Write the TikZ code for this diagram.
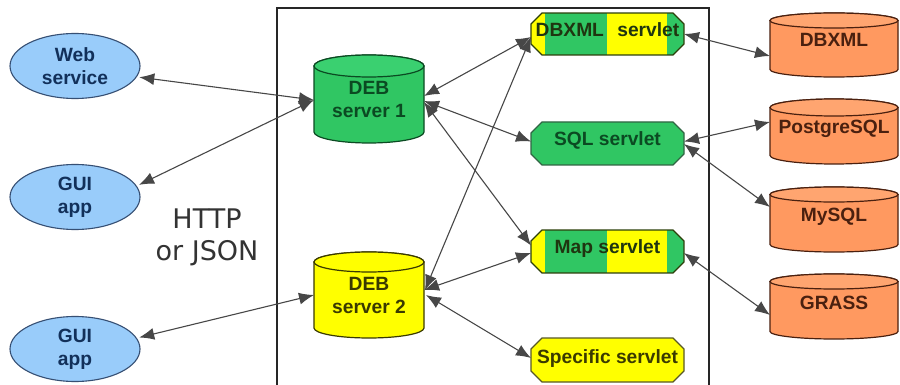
\documentclass[tikz,border=0pt]{standalone}
\usepackage{fontspec}
\setmainfont{Liberation Sans}
\newfontfamily\vera{DejaVu Sans}
\usetikzlibrary{arrows.meta,shapes.geometric}
\definecolor{cgreen}{HTML}{30C663}
\definecolor{cgreenl}{HTML}{3AD070}
\definecolor{cyel}{HTML}{FFFF00}
\definecolor{corange}{HTML}{FF9960}
\definecolor{corangel}{HTML}{FFA570}
\definecolor{cblue}{HTML}{99CCFA}
\definecolor{tgreen}{HTML}{0B4A22}
\definecolor{tyel}{HTML}{3A3A00}
\definecolor{torange}{HTML}{4A200F}
\definecolor{tblue}{HTML}{12305A}
\definecolor{tmix}{HTML}{1F3510}
\newcommand{\bodyfont}{\fontsize{19.2pt}{23pt}\selectfont\bfseries}
\newcommand{\dbcyl}[8]{%
  \pgfmathsetmacro{\rxv}{(#3-#1)/2}%
  \pgfmathsetmacro{\cxv}{(#3+#1)/2}%
  \pgfmathsetmacro{\lidv}{#2+#5}%
  \pgfmathsetmacro{\lowv}{#4-#5}%
  \filldraw[fill=#6,draw=#7,line width=1.2pt]
    (#1,\lidv) -- (#1,\lowv) arc[start angle=180,end angle=360,x radius=\rxv pt,y radius=#5 pt]
    -- (#3,\lidv) arc[start angle=0,end angle=180,x radius=\rxv pt,y radius=#5 pt] -- cycle;
  \filldraw[fill=#8,draw=#7,line width=1.2pt] (\cxv,\lidv) ellipse[x radius=\rxv pt,y radius=#5 pt];
}
% octagon path: top y, bottom y
\newcommand{\octpath}[2]{(542,#1) -- (673,#1) -- (684,#1+11) -- (684,#2-11) -- (673,#2) -- (542,#2) -- (531,#2-11) -- (531,#1+11) -- cycle}
\newcommand{\solidservlet}[4]{\filldraw[fill=#3,draw=#4,line width=1.2pt] \octpath{#1}{#2};}
\newcommand{\stripedservlet}[2]{%
  \begin{scope}
    \clip \octpath{#1}{#2};
    \fill[cyel] (531,#1) rectangle (684,#2);
    \fill[cgreen] (545,#1) rectangle (607,#2);
    \fill[cgreen] (667,#1) rectangle (684,#2);
  \end{scope}
  \draw[draw=tyel!70!tgreen,line width=1.2pt] \octpath{#1}{#2};
}
\tikzset{
  x=1pt,y=-1pt,
  >={Latex[length=15pt,width=12pt]},
  link/.style={<->,draw=black!72,line width=1.1pt},
  frameline/.style={draw=black!85,line width=1.4pt},
  client/.style={ellipse,draw=tblue!85,line width=1.1pt,fill=cblue,text=tblue,font=\bodyfont,
    minimum width=130pt,minimum height=65pt,inner sep=0pt,outer sep=0pt,align=center},
  cyllabel/.style={font=\bodyfont,align=center,inner sep=0pt,outer sep=0pt,rectangle},
  servlet/.style={rectangle,minimum width=153pt,minimum height=43pt,
    inner sep=0pt,outer sep=0pt,font=\bodyfont},
}
\begin{document}
\begin{tikzpicture}
\useasboundingbox (0,0) rectangle (900,385);
\fill[white] (0,0) rectangle (900,385);
\draw[frameline] (277,385) -- (277,8) -- (709,8) -- (709,385);
% databases and servers
\dbcyl{314}{55}{424}{143}{11}{cgreen}{tgreen}{cgreenl}
\dbcyl{314}{252}{424}{338}{10}{cyel}{tyel}{cyel}
\dbcyl{770}{13}{898}{77}{7.5}{corange}{torange}{corangel}
\dbcyl{770}{99}{898}{164}{8.5}{corange}{torange}{corangel}
\dbcyl{770}{187}{898}{252}{7.5}{corange}{torange}{corangel}
\dbcyl{770}{274}{898}{339}{7.5}{corange}{torange}{corangel}
\node[cyllabel,text=tgreen,minimum width=110pt,minimum height=88pt] (deb1) at (369,99) {DEB\\server 1};
\node[cyllabel,text=tyel,minimum width=110pt,minimum height=86pt] (deb2) at (369,295) {DEB\\server 2};
\node[cyllabel,text=torange,minimum width=128pt,minimum height=64pt] (dbxml) at (834,45) {\raisebox{10pt}{DBXML}};
\node[cyllabel,text=torange,minimum width=128pt,minimum height=65pt] (pg) at (834,131.5) {\raisebox{9pt}{PostgreSQL}};
\node[cyllabel,text=torange,minimum width=128pt,minimum height=65pt] (mysql) at (834,219.5) {\raisebox{9pt}{MySQL}};
\node[cyllabel,text=torange,minimum width=128pt,minimum height=65pt] (grass) at (834,306.5) {\raisebox{8pt}{GRASS}};
% clients
\node[client] (web) at (75,66) {Web\\service};
\node[client] (gui1) at (75,197) {GUI\\app};
\node[client] (gui2) at (75,349) {GUI\\app};
% servlets
\stripedservlet{13}{55}
\solidservlet{122}{165}{cgreen}{tgreen!85}
\stripedservlet{230}{273}
\solidservlet{338}{382}{cyel}{tyel!85}
\node[servlet,text=tmix] (sdbxml) at (607.5,34) {\raisebox{9pt}{DBXML\hspace{0.42em} servlet}};
\node[servlet,text=tgreen] (ssql) at (607.5,143.5) {\raisebox{10pt}{SQL servlet}};
\node[servlet,text=tmix] (smap) at (607.5,251.5) {\raisebox{10pt}{Map servlet}};
\node[servlet,text=tyel] (sspec) at (607.5,360) {\raisebox{7pt}{Specific servlet}};
% label
\node[font=\vera\fontsize{27pt}{32pt}\selectfont,text=black!80,align=center,inner sep=0pt] (proto) at (207,237) {HTTP\\or JSON};
% connectors
\draw[link,shorten <=3pt] (web.-10) -- ([yshift=-1pt]deb1.west);
\draw[link,shorten <=3pt] (gui1.10) -- ([yshift=-1pt]deb1.west);
\draw[link,shorten <=3pt] (gui2.10) -- (deb2.west);
\draw[link] ([yshift=3pt]deb1.east) -- ([yshift=-3pt]sdbxml.west);
\draw[link] ([yshift=-2pt]deb1.east) -- ([yshift=2pt]ssql.west);
\draw[link] ([yshift=-3pt]deb1.east) -- ([yshift=6pt]smap.west);
\draw[link] ([xshift=1pt,yshift=5pt]deb2.east) -- ([yshift=-3pt]sdbxml.west);
\draw[link] ([yshift=5pt]deb2.east) -- ([yshift=-1.5pt]smap.west);
\draw[link] ([xshift=2pt]deb2.east) -- ([yshift=2pt]sspec.west);
\draw[link] (sdbxml.east) -- ([yshift=-11pt]dbxml.west);
\draw[link] ([yshift=2pt]ssql.east) -- ([yshift=9.5pt]pg.west);
\draw[link] ([yshift=-0.5pt]ssql.east) -- ([yshift=12.5pt]mysql.west);
\draw[link] ([yshift=-1.5pt]smap.east) -- ([yshift=-8.5pt]grass.west);
\end{tikzpicture}
\end{document}
